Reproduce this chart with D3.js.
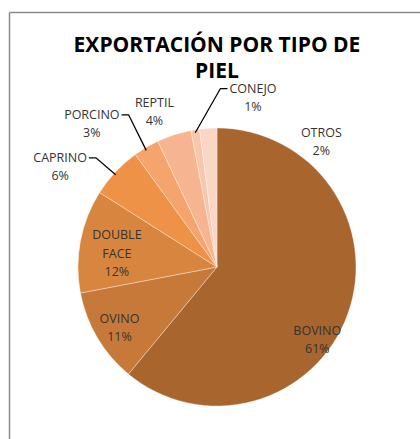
<!DOCTYPE html>
<html>
<head>
<meta charset="utf-8">
<script src="https://cdn.jsdelivr.net/npm/d3@7"></script>
<style>
  body { margin: 0; background: #fff; }
  text { font-family: "Open Sans", "Liberation Sans", sans-serif; }
</style>
</head>
<body>
<div id="chart"></div>
<script>
// data
var categories = ["BOVINO", "OVINO", "DOUBLE FACE", "CAPRINO", "PORCINO", "REPTIL", "CONEJO", "OTROS"];
var values = [61, 11, 12, 6, 3, 4, 1, 2];
var colors = ["#a8652d", "#c77939", "#d8863f", "#ed9247", "#f4a46c", "#f6b590", "#f8c6ab", "#fbd6c5"];

var width = 420;
var height = 439;
var cx = 217, cy = 267;
var radius = 139;

// label placement: angle (deg, clockwise from top) and distance from centre
var labelPos = {
    "BOVINO": { a: 126, r: 124 },
    "OVINO": { a: 238, r: 115 },
    "DOUBLE FACE": { a: 277.5, r: 101 },
    "CAPRINO": { a: 302.5, r: 186, leader: "right" },
    "PORCINO": { a: 318.8, r: 190, leader: "right" },
    "REPTIL": { a: 338, r: 167 },
    "CONEJO": { a: 12, r: 173, leader: "left" },
    "OTROS": { a: 39.8, r: 163 }
};

var data = categories.map(function (c, i) {
    return { title: c, value: values[i], color: colors[i] };
});

var svg = d3.select('#chart')
    .append('svg')
    .attr('width', width)
    .attr('height', height);

// chart frame (only top and left edges fall inside the window)
svg.append('line')
    .attr('x1', 9.5).attr('y1', 12.5).attr('x2', width).attr('y2', 12.5)
    .attr('stroke', '#8a8a8a').attr('stroke-width', 1.5);
svg.append('line')
    .attr('x1', 9.5).attr('y1', 12.5).attr('x2', 9.5).attr('y2', height)
    .attr('stroke', '#8a8a8a').attr('stroke-width', 1.5);

var title = svg.append('text')
    .attr('text-anchor', 'middle')
    .attr('font-weight', 'bold')
    .attr('font-size', 21)
    .attr('fill', '#000');
title.append('tspan').attr('x', 217).attr('y', 52).text('EXPORTACIÓN POR TIPO DE');
title.append('tspan').attr('x', 217).attr('y', 78).text('PIEL');

var g = svg.append('g')
    .attr('transform', 'translate(' + cx + ',' + cy + ')');

var pie = d3.pie()
    .value(function (d) { return d.value; })
    .sort(null);

var arc = d3.arc()
    .innerRadius(0)
    .outerRadius(radius);

var arcs = pie(data);

g.selectAll('path')
    .data(arcs)
    .enter()
    .append('path')
    .attr('d', arc)
    .attr('fill', function (d) { return d.data.color; })
    .attr('stroke', '#fff')
    .attr('stroke-opacity', 0.5)
    .attr('stroke-width', 0.7);

function polar(a, r) {
    var rad = a * Math.PI / 180;
    return [r * Math.sin(rad), -r * Math.cos(rad)];
}

var lineH = 18.5;

arcs.forEach(function (d) {
    var p = labelPos[d.data.title];
    var xy = polar(p.a, p.r);
    var lines = d.data.title.split(' ').concat([d.data.value + '%']);
    var t = g.append('text')
        .attr('text-anchor', 'middle')
        .attr('font-size', 12.5)
        .attr('fill', '#333');
    var y0 = xy[1] - (lines.length - 1) * lineH / 2 + 4;
    lines.forEach(function (l, i) {
        t.append('tspan')
            .attr('x', xy[0])
            .attr('y', y0 + i * lineH)
            .text(l);
    });

    if (p.leader) {
        var mid = (d.startAngle + d.endAngle) / 2;
        var edge = [radius * Math.sin(mid), -radius * Math.cos(mid)];
        var w = t.select('tspan').node().getComputedTextLength();
        var ly = y0 - 4;
        var sx, ex;
        if (p.leader === 'right') {
            sx = xy[0] + w / 2 + 2;
            ex = sx + 7;
        } else {
            sx = xy[0] - w / 2 - 2;
            ex = sx - 7;
        }
        g.append('path')
            .attr('d', 'M' + sx + ',' + ly + 'L' + ex + ',' + ly + 'L' + edge[0] + ',' + (edge[1] + 3))
            .attr('fill', 'none')
            .attr('stroke', '#000')
            .attr('stroke-width', 1.3);
    }
});
</script>
</body>
</html>
